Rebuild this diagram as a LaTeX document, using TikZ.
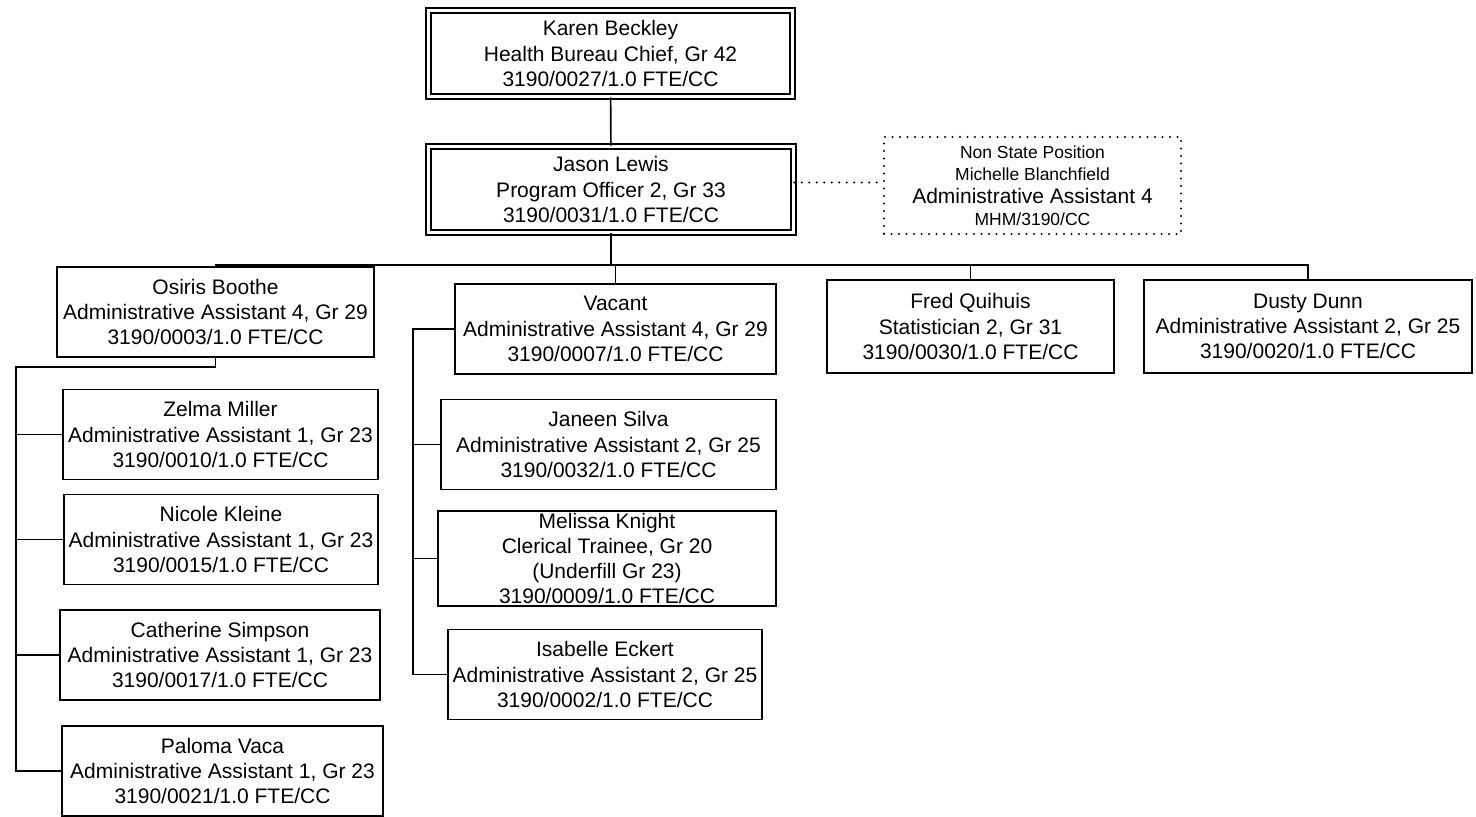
\documentclass[tikz,border=0pt]{standalone}
\usepackage{fontspec}
\setmainfont{Liberation Sans}
\tikzstyle{jobbox} = [rectangle, inner sep=0pt, minimum height=90, align=center, draw=black, line width=1.6pt, font=\fontsize{21}{25.3}\selectfont]
\tikzstyle{chiefbox} = [jobbox, double, double distance=3.3pt, line width=1.6pt]
\tikzstyle{nsbox} = [rectangle, inner sep=0pt, align=center, draw=black, line width=2.2pt, line cap=round, dash pattern=on 0pt off 7.5pt, font=\fontsize{17.5}{22.5}\selectfont]
\tikzstyle{link} = [line width=1.6pt]
\tikzstyle{nslink} = [line width=2.2pt, line cap=round, dash pattern=on 0pt off 7.5pt]
\begin{document}
\begin{tikzpicture}[x=1pt, y=-1pt]
    \useasboundingbox (0,0) rectangle (1476,817);

    \node (karen)     [chiefbox, minimum width=364, minimum height=86] at (610.5,53.5)  {Karen Beckley\\Health Bureau Chief, Gr 42\\3190/0027/1.0 FTE/CC};
    \node (jason)     [chiefbox, minimum width=365, minimum height=86] at (611,189.5)   {Jason Lewis\\Program Officer 2, Gr 33\\3190/0031/1.0 FTE/CC};
    \node (nonstate)  [nsbox, minimum width=297, minimum height=97]    at (1032.5,185.5) {Non State Position\\Michelle Blanchfield\\{\fontsize{21}{25}\selectfont Administrative Assistant 4}\\MHM/3190/CC};

    \node (osiris)    [jobbox, minimum width=317]                      at (215.5,312)   {Osiris Boothe\\Administrative Assistant 4, Gr 29\\3190/0003/1.0 FTE/CC};
    \node (vacant)    [jobbox, minimum width=321]                      at (615.5,329)   {Vacant\\Administrative Assistant 4, Gr 29\\3190/0007/1.0 FTE/CC};
    \node (fred)      [jobbox, minimum width=287, minimum height=93]   at (970.5,326.5) {Fred Quihuis\\Statistician 2, Gr 31\\3190/0030/1.0 FTE/CC};
    \node (dusty)     [jobbox, minimum width=328, minimum height=93]   at (1308,326.5)  {Dusty Dunn\\Administrative Assistant 2, Gr 25\\3190/0020/1.0 FTE/CC};

    \node (zelma)     [jobbox, minimum width=315]                      at (220.5,434.5) {Zelma Miller\\Administrative Assistant 1, Gr 23\\3190/0010/1.0 FTE/CC};
    \node (nicole)    [jobbox, minimum width=314]                      at (221,539.5)   {Nicole Kleine\\Administrative Assistant 1, Gr 23\\3190/0015/1.0 FTE/CC};
    \node (catherine) [jobbox, minimum width=320]                      at (220,655)     {Catherine Simpson\\Administrative Assistant 1, Gr 23\\3190/0017/1.0 FTE/CC};
    \node (paloma)    [jobbox, minimum width=321]                      at (222.5,771)   {Paloma Vaca\\Administrative Assistant 1, Gr 23\\3190/0021/1.0 FTE/CC};

    \node (janeen)    [jobbox, minimum width=335]                      at (608.5,444.5) {Janeen Silva\\Administrative Assistant 2, Gr 25\\3190/0032/1.0 FTE/CC};
    \node (melissa)   [jobbox, minimum width=338, minimum height=95]   at (607,558.5)   {Melissa Knight\\Clerical Trainee, Gr 20\\(Underfill Gr 23)\\3190/0009/1.0 FTE/CC};
    \node (isabelle)  [jobbox, minimum width=314]                      at (605,674.5)   {Isabelle Eckert\\Administrative Assistant 2, Gr 25\\3190/0002/1.0 FTE/CC};

    \coordinate (bus)    at (611,265);
    \coordinate (ltrunk) at (16,367);
    \coordinate (mtrunk) at (413,329);

    \draw [link]   (karen)       -- (jason);
    \draw [nslink] ([yshift=7pt]jason.east) -- ([yshift=7pt]jason.east -| nonstate.west);
    \draw [link]   (jason.south) -- (bus);
    \draw [link]   (osiris.north) |- (bus) -| (dusty.north);
    \draw [link]   (vacant.north) -- (vacant.north |- bus);
    \draw [link]   (fred.north)   -- (fred.north |- bus);

    \draw [link]   (osiris.south) |- (ltrunk) -- (ltrunk |- paloma.west) -- (paloma.west);
    \draw [link]   (zelma.west)     -- (zelma.west -| ltrunk);
    \draw [link]   (nicole.west)    -- (nicole.west -| ltrunk);
    \draw [link]   (catherine.west) -- (catherine.west -| ltrunk);

    \draw [link]   (vacant.west) -- (mtrunk) -- (mtrunk |- isabelle.west) -- (isabelle.west);
    \draw [link]   (janeen.west)  -- (janeen.west -| mtrunk);
    \draw [link]   (melissa.west) -- (melissa.west -| mtrunk);

\end{tikzpicture}
\end{document}
